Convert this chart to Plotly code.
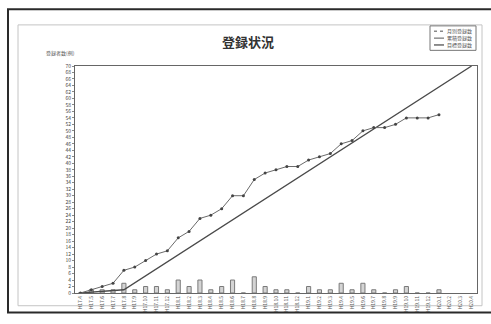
import plotly.graph_objects as go

# Month labels (37 months)
months = [
    "H17.4", "H17.5", "H17.6", "H17.7", "H17.8", "H17.9", "H17.10", "H17.11", "H17.12",
    "H18.1", "H18.2", "H18.3", "H18.4", "H18.5", "H18.6", "H18.7", "H18.8", "H18.9",
    "H18.10", "H18.11", "H18.12",
    "H19.1", "H19.2", "H19.3", "H19.4", "H19.5", "H19.6", "H19.7", "H19.8", "H19.9",
    "H19.10", "H19.11", "H19.12",
    "H20.1", "H20.2", "H20.3", "H20.4",
]

# Monthly registrations (bars)
monthly = [0, 1, 1, 1, 3, 1, 2, 2, 1, 4, 2, 4, 1, 2, 4, 0, 5, 2, 1, 1, 0, 2, 1, 1,
           3, 1, 3, 1, 0, 1, 2, 0, 0, 1]

# Cumulative registrations
cumulative = [0, 1, 2, 3, 7, 8, 10, 12, 13, 17, 19, 23, 24, 26, 30, 30, 35, 37, 38,
              39, 39, 41, 42, 43, 46, 47, 50, 51, 51, 52, 54, 54, 54, 55]

# Target line knots
target_months = ["H17.4", "H17.8", "H20.4"]
target_values = [0, 1, 70]

legend_names = ["月別登録数", "累積登録数", "目標登録数"]

FONT = "Noto Sans CJK JP"

# plot area in pixels: x 75..477, y 66..298
L, R, T, B = 75, 477, 66, 298


def px(x):
    return (x - L) / (R - L)


def py(y):
    return (B - y) / (B - T)


fig = go.Figure()

fig.add_trace(go.Bar(
    x=months[:len(monthly)], y=monthly, name=legend_names[0],
    marker=dict(color="#d4d4d4", line=dict(color="#7a7a7a", width=1)),
))

fig.add_trace(go.Scatter(
    x=target_months, y=target_values, name=legend_names[2], mode="lines",
    line=dict(color="#4a4a4a", width=1.3),
))

fig.add_trace(go.Scatter(
    x=months[:len(cumulative)], y=cumulative, name=legend_names[1],
    mode="lines+markers",
    line=dict(color="#6a6a6a", width=1),
    marker=dict(color="#444444", size=3),
))

fig.update_layout(
    width=491, height=324,
    margin=dict(l=L, r=491 - R, t=T, b=324 - B),
    paper_bgcolor="white", plot_bgcolor="white",
    showlegend=False, bargap=0.62,
    font=dict(family=FONT, color="#333333"),
)

fig.update_xaxes(
    type="category", categoryorder="array", categoryarray=months,
    range=[-0.5, len(months) - 0.5],
    tickangle=-90, tickfont=dict(size=5, color="#555555"),
    showline=True, linecolor="#666666", linewidth=1, mirror=True,
    showgrid=False, ticks="",
)

fig.update_yaxes(
    range=[0, 70], dtick=2, tickfont=dict(size=5, color="#444444"),
    showline=True, linecolor="#666666", linewidth=1, mirror=True,
    ticks="outside", ticklen=2, tickcolor="#888888",
    showgrid=False, zeroline=False,
)

# Page frames: dark outer border and light inner border
fig.add_shape(type="rect", xref="paper", yref="paper", layer="below",
              x0=px(8), x1=px(492), y0=py(318), y1=py(8),
              line=dict(color="#2a2a2a", width=2))
fig.add_shape(type="rect", xref="paper", yref="paper", layer="below",
              x0=px(18), x1=px(482), y0=py(311), y1=py(24),
              line=dict(color="#c4c4c4", width=1))

# Title and axis title
fig.add_annotation(text="<b>登録状況</b>", xref="paper", yref="paper",
                   x=px(248), y=py(41), xanchor="center", yanchor="middle",
                   showarrow=False,
                   font=dict(size=13, family=FONT, color="#333333"))
fig.add_annotation(text="登録者数(例)", xref="paper", yref="paper",
                   x=px(60), y=py(53), xanchor="center", yanchor="middle",
                   showarrow=False,
                   font=dict(size=5, family=FONT, color="#555555"))

# Legend box
fig.add_shape(type="rect", xref="paper", yref="paper",
              x0=px(430), x1=px(476), y0=py(50), y1=py(25),
              line=dict(color="#777777", width=1), fillcolor="white")
rows = [30.5, 37.5, 44.5]
fig.add_shape(type="line", xref="paper", yref="paper",
              x0=px(434), x1=px(444), y0=py(rows[0]), y1=py(rows[0]),
              line=dict(color="#8a8a8a", width=1.5, dash="dot"))
fig.add_shape(type="line", xref="paper", yref="paper",
              x0=px(434), x1=px(444), y0=py(rows[1]), y1=py(rows[1]),
              line=dict(color="#555555", width=1))
fig.add_shape(type="line", xref="paper", yref="paper",
              x0=px(434), x1=px(444), y0=py(rows[2]), y1=py(rows[2]),
              line=dict(color="#444444", width=1.2))
for name, r in zip(legend_names, rows):
    fig.add_annotation(text=name, xref="paper", yref="paper",
                       x=px(446), y=py(r), xanchor="left", yanchor="middle",
                       showarrow=False, borderpad=0,
                       font=dict(size=5, family=FONT, color="#555555"))

fig.write_html("out.html")
